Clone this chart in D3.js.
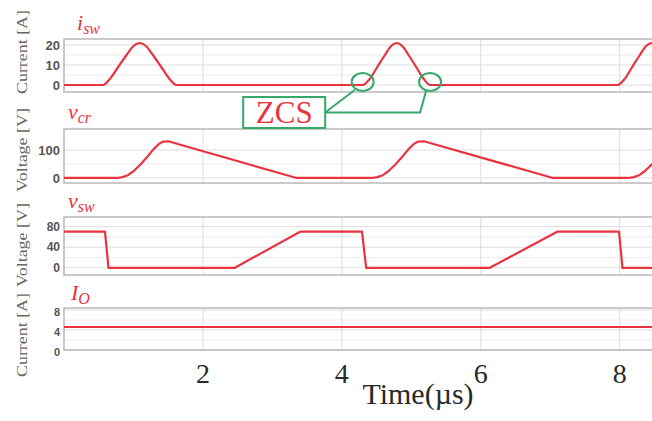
<!DOCTYPE html>
<html><head><meta charset="utf-8">
<script src="https://cdn.jsdelivr.net/npm/d3@7"></script>
<style>html,body{margin:0;padding:0;background:#fff;overflow:hidden}</style>
</head><body>
<svg id="c" width="652" height="421"></svg>
<script>
// ---- data ----
const xTicks = [2, 4, 6, 8];
const iswData = [[0,0],[0.56,0],[0.66,3],[0.78,9],[0.9,15],[1.0,19.5],[1.09,21],[1.18,19.5],[1.28,15],[1.4,9],[1.52,3],[1.62,0],
  [4.3,0],[4.4,3],[4.51,9],[4.62,15],[4.71,19.5],[4.79,21],[4.87,19.5],[4.96,15],[5.07,9],[5.18,3],[5.27,0],
  [7.97,0],[8.07,3],[8.18,9],[8.29,15],[8.38,19.5],[8.46,21],[8.55,19.5]];
const vcrData = [[0,0],[0.76,0],[0.84,3],[0.92,10],[1.0,24],[1.1,48],[1.2,76],[1.29,103],[1.37,122],[1.43,130],[1.5,131],[3.35,0],
  [4.43,0],[4.51,3],[4.59,10],[4.67,24],[4.77,48],[4.87,76],[4.96,103],[5.04,122],[5.1,130],[5.18,131],[7.04,0],
  [8.12,0],[8.2,3],[8.28,10],[8.36,24],[8.46,48],[8.56,76]];
const vswData = [[0,70],[0.59,70],[0.64,0],[2.46,0],[3.4,70],[4.29,70],[4.35,0],[6.13,0],[7.1,70],[7.99,70],[8.04,0],[8.6,0]];
const ioData = [[0,4.6],[8.6,4.6]];
const iswTicks = [0, 10, 20];
const vcrTicks = [0, 100];
const vswTicks = [0, 40, 80];
const ioTicks = [0, 4, 8];

const red = "#e8343f";
const svg = d3.select("#c");
const x = d3.scaleLinear().domain([0, 8.58]).range([64, 660]);

const panels = [
  {top:39, bottom:92, domain:[-3.5,23], ticks:iswTicks, data:iswData, curve:d3.curveMonotoneX, ytitle:"Current [A]", tcy:52, lab:["i","sw"], labX:77, labY:30, tickSize:13, tickDy:0},
  {top:129, bottom:183, domain:[-18,175], ticks:vcrTicks, data:vcrData, curve:d3.curveLinear, ytitle:"Voltage [V]", tcy:150, lab:["v","cr"], labX:68, labY:119, tickSize:13, tickDy:0},
  {top:217, bottom:275, domain:[-14,98.5], ticks:vswTicks, data:vswData, curve:d3.curveLinear, ytitle:"Voltage [V]", tcy:245, lab:["v","sw"], labX:68, labY:208, tickSize:12, tickDy:0},
  {top:308, bottom:350, domain:[0,8.4], ticks:ioTicks, data:ioData, curve:d3.curveLinear, ytitle:"Current [A]", tcy:335, lab:["I","O"], labX:71, labY:300, tickSize:11, tickDy:2}
];

panels.forEach(p => {
  const y = d3.scaleLinear().domain(p.domain).range([p.bottom, p.top]);
  const g = svg.append("g");
  const minor = [];
  for (let i = 0; i < p.ticks.length - 1; i++) minor.push((p.ticks[i] + p.ticks[i+1]) / 2);
  g.selectAll(".hm").data(minor).join("line")
    .attr("x1", 64).attr("x2", 660).attr("y1", d => y(d)).attr("y2", d => y(d))
    .attr("stroke", "#ececec").attr("stroke-width", 1);
  g.selectAll(".h").data(p.ticks).join("line")
    .attr("x1", 64).attr("x2", 660).attr("y1", d => y(d)).attr("y2", d => y(d))
    .attr("stroke", "#dedede").attr("stroke-width", 1);
  g.selectAll(".v").data(xTicks).join("line")
    .attr("x1", d => x(d)).attr("x2", d => x(d)).attr("y1", p.top).attr("y2", p.bottom)
    .attr("stroke", "#dcdcdc").attr("stroke-width", 1);
  g.append("rect").attr("x", 64).attr("y", p.top).attr("width", 600).attr("height", p.bottom - p.top)
    .attr("fill", "none").attr("stroke", "#b8b8b8").attr("stroke-width", 1.5);
  g.selectAll(".tl").data(p.ticks).join("text")
    .attr("x", 60).attr("y", d => y(d) + p.tickDy).attr("dy", "0.35em")
    .attr("text-anchor", "end").attr("font-family", "Liberation Sans, Arial, sans-serif")
    .attr("font-weight", "bold").attr("font-size", p.tickSize).attr("fill", "#555")
    .text(d => d);
  g.append("text").attr("transform", `translate(27,${p.tcy}) rotate(-90)`)
    .attr("text-anchor", "middle").attr("font-family", "Liberation Serif, Times New Roman, serif")
    .attr("font-size", 15).attr("fill", "#666").attr("textLength", 84).attr("lengthAdjust", "spacingAndGlyphs")
    .text(p.ytitle);
  const line = d3.line().x(d => x(d[0])).y(d => y(d[1])).curve(p.curve);
  svg.append("defs").append("clipPath").attr("id", "cp" + p.top)
    .append("rect").attr("x", 64).attr("y", p.top - 5).attr("width", 600).attr("height", p.bottom - p.top + 10);
  g.append("path").datum(p.data).attr("d", line).attr("fill", "none")
    .attr("stroke", red).attr("stroke-width", 2.2).attr("stroke-linejoin", "round").attr("clip-path", `url(#cp${p.top})`);
  const t = g.append("text").attr("x", p.labX).attr("y", p.labY)
    .attr("font-family", "Liberation Serif, Times New Roman, serif").attr("font-style", "italic")
    .attr("fill", red);
  t.append("tspan").attr("font-size", 22).text(p.lab[0]);
  t.append("tspan").attr("font-size", 16).attr("dy", 4).text(p.lab[1]);
  p.y = y;
});

svg.selectAll(".xt").data(xTicks).join("text")
  .attr("x", d => x(d)).attr("y", 383).attr("text-anchor", "middle")
  .attr("font-family", "Liberation Serif, Times New Roman, serif").attr("font-size", 28).attr("fill", "#2a2a2a")
  .text(d => d);
svg.append("text").attr("x", 418).attr("y", 404).attr("text-anchor", "middle")
  .attr("font-family", "Liberation Serif, Times New Roman, serif").attr("font-size", 30).attr("fill", "#2a2a2a")
  .text("Time(µs)");

const green = "#35a86a";
const y1 = panels[0].y;
const c1 = [x(4.3), y1(1.5)], c2 = [x(5.27), y1(1.5)];
const boxL = x(2.58), boxR = x(3.76), boxT = 97, boxB = 128;
const ann = svg.append("g");
[c1, c2].forEach(c => ann.append("ellipse").attr("cx", c[0]).attr("cy", c[1]).attr("rx", 11).attr("ry", 9)
  .attr("fill", "none").attr("stroke", green).attr("stroke-width", 2));
ann.append("polyline").attr("points", `${c1[0]-8},${c1[1]+8} ${boxR},${(boxT+boxB)/2}`)
  .attr("fill", "none").attr("stroke", green).attr("stroke-width", 2);
ann.append("polyline").attr("points", `${c2[0]-4},${c2[1]+9} ${c2[0]-10},${(boxT+boxB)/2} ${boxR},${(boxT+boxB)/2}`)
  .attr("fill", "none").attr("stroke", green).attr("stroke-width", 2);
ann.append("rect").attr("x", boxL).attr("y", boxT).attr("width", boxR - boxL).attr("height", boxB - boxT)
  .attr("fill", "#fff").attr("stroke", green).attr("stroke-width", 2);
ann.append("text").attr("x", (boxL + boxR) / 2).attr("y", boxB - 5).attr("text-anchor", "middle")
  .attr("font-family", "Liberation Serif, Times New Roman, serif").attr("font-size", 31).attr("fill", red)
  .text("ZCS");
</script>
</body></html>
